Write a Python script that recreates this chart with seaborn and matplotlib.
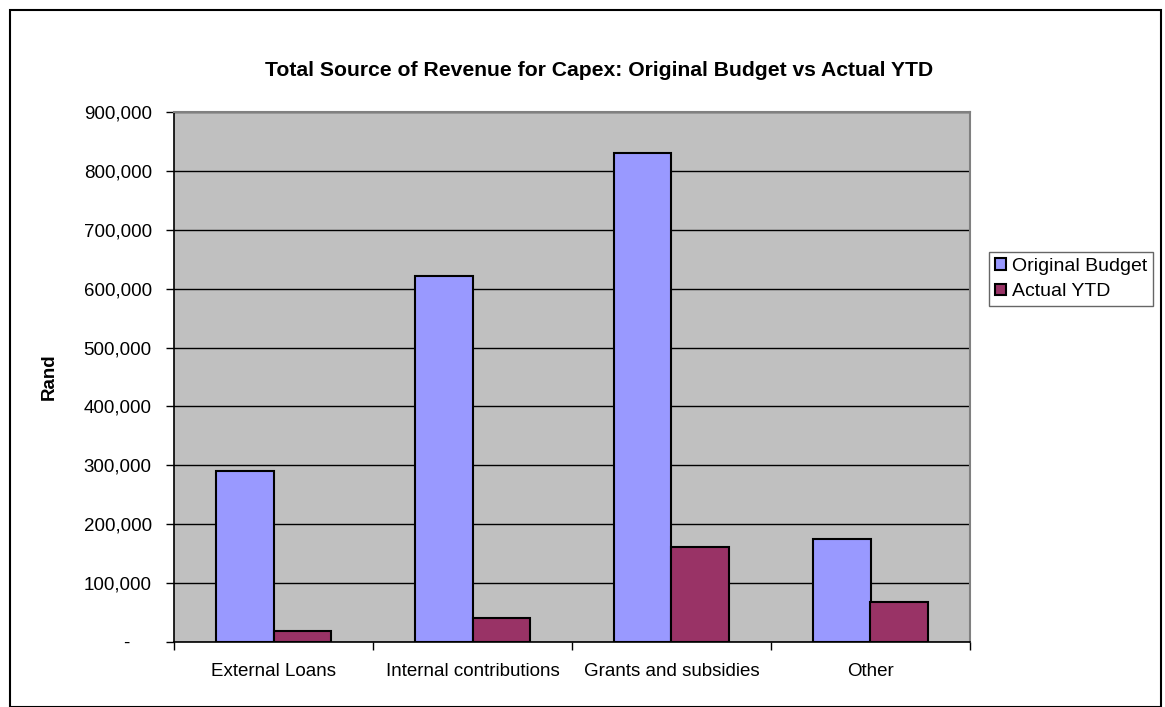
import matplotlib
matplotlib.use("Agg")
import matplotlib.pyplot as plt
from matplotlib.patches import Rectangle
from matplotlib.ticker import FuncFormatter, FixedLocator
import seaborn as sns
import pandas as pd

# Capex funding sources (Rand)
categories = ["External Loans", "Internal contributions", "Grants and subsidies", "Other"]
original_budget = [290000, 622000, 831000, 175000]
actual_ytd = [18000, 40000, 162000, 68000]
series_names = ["Original Budget", "Actual YTD"]
y_ticks = [0, 100000, 200000, 300000, 400000, 500000, 600000, 700000, 800000, 900000]

df = pd.DataFrame({
    "Category": categories * 2,
    "Value": original_budget + actual_ytd,
    "Series": [series_names[0]] * len(categories) + [series_names[1]] * len(categories),
})

sns.set_theme(style="white")
plt.rcParams["font.family"] = ["Liberation Sans", "DejaVu Sans"]
plt.rcParams["text.color"] = "black"
plt.rcParams["xtick.color"] = "black"
plt.rcParams["ytick.color"] = "black"
plt.rcParams["axes.labelcolor"] = "black"

fig = plt.figure(figsize=(11.65, 7.07), dpi=100)
fig.patch.set_facecolor("white")
ax = fig.add_axes([174 / 1165, 1 - 642 / 707, (970 - 174) / 1165, (642 - 112) / 707])
ax.set_facecolor("#C0C0C0")

sns.barplot(
    data=df, x="Category", y="Value", hue="Series", order=categories,
    hue_order=series_names, palette=["#9999FF", "#993366"], saturation=1,
    width=0.575, edgecolor="black", linewidth=1.5, ax=ax, legend=True,
)

ax.set_ylim(0, 900000)
ax.set_xlim(-0.5, len(categories) - 0.5)
ax.set_yticks(y_ticks)
ax.yaxis.set_major_formatter(FuncFormatter(lambda v, p: "-    " if v == 0 else f"{int(v):,}"))
ax.yaxis.grid(True, color="black", linewidth=1.0)
ax.set_axisbelow(True)

# category boundaries carry tick marks, centres carry the labels
ax.xaxis.set_major_locator(FixedLocator([i - 0.5 for i in range(len(categories) + 1)]))
ax.xaxis.set_minor_locator(FixedLocator(list(range(len(categories)))))
ax.set_xticklabels([""] * (len(categories) + 1))
ax.set_xticklabels(categories, minor=True)
ax.tick_params(axis="x", which="major", direction="out", length=6, width=1, color="black", bottom=True)
ax.tick_params(axis="x", which="minor", length=0, labelsize=13.5, pad=15)
ax.tick_params(axis="y", direction="out", length=6, width=1, color="black", left=True, labelsize=13.5, pad=10)

for side in ("left", "bottom"):
    ax.spines[side].set_color("black")
    ax.spines[side].set_linewidth(1.2)
for side in ("top", "right"):
    ax.spines[side].set_color("#808080")
    ax.spines[side].set_linewidth(1.5)

ax.set_xlabel("")
ax.set_ylabel("Rand", fontsize=13.5, fontweight="bold", labelpad=19)

handles, labels = ax.get_legend_handles_labels()
ax.get_legend().remove()
leg = fig.legend(
    handles, labels, loc="center left", bbox_to_anchor=(989 / 1165, 1 - 279 / 707),
    fontsize=14, frameon=True, fancybox=False, edgecolor="#404040",
    handlelength=0.55, handleheight=0.55, handletextpad=0.35, borderpad=0.3,
    labelspacing=0.45, borderaxespad=0,
)
leg.get_frame().set_linewidth(1.0)

fig.text(599 / 1165, 1 - 71 / 707, "Total Source of Revenue for Capex: Original Budget vs Actual YTD",
         ha="center", va="center", fontsize=15.2, fontweight="bold")

# outer chart frame
fig.patches.append(Rectangle((10 / 1165, 0.5 / 707), 1151 / 1165, 697 / 707,
                             transform=fig.transFigure, fill=False,
                             edgecolor="black", linewidth=1.5))

fig.savefig("out.png", dpi=100)
